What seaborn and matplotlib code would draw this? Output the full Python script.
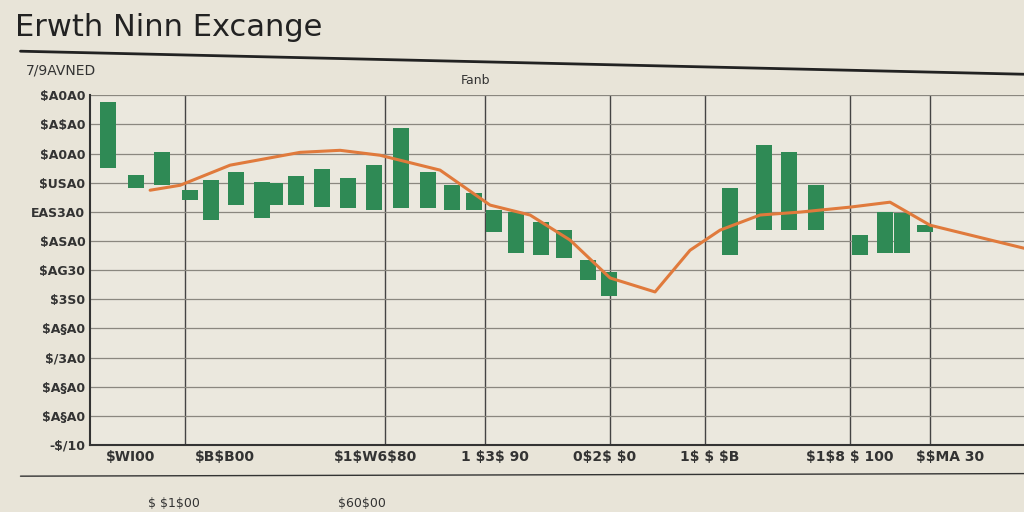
import matplotlib
matplotlib.use("Agg")
import matplotlib.pyplot as plt
import seaborn as sns
import pandas as pd

sns.set_theme(style="white")
plt.rcParams['font.family'] = ['DejaVu Sans']
plt.rcParams['text.parse_math'] = False

bar_x = [18, 46, 72, 100, 121, 146, 172, 185, 206, 232, 258, 284, 311, 338, 362, 384,
         404, 426, 451, 474, 498, 519, 640, 674, 699, 726, 770, 795, 812, 835]
bar_top = [117.6, 92.6, 100.4, 87.4, 90.8, 93.6, 90.2, 89.8, 92.2, 94.6, 91.5, 96, 108.7, 93.6, 89.1, 86.4,
           80.6, 79.9, 76.4, 73.7, 63.4, 59.3, 88.1, 102.8, 100.4, 89.1, 72, 79.9, 79.5, 75.4]
bar_bottom = [95, 88.1, 89.1, 84, 77.1, 82.3, 77.8, 82.3, 82.3, 81.6, 81.2, 80.6, 81.2, 81.2, 80.6, 80.6,
              73, 65.8, 65.1, 64.1, 56.6, 51.1, 65.1, 73.7, 73.7, 73.7, 65.1, 65.8, 65.8, 73]
line_x = [60, 90, 140, 210, 250, 290, 350, 400, 440, 480, 520, 565, 600, 630, 670, 710, 760, 800, 840, 934]
line_y = [87.4, 89.1, 96, 100.4, 101.1, 99.4, 94.3, 82.3, 78.9, 70.3, 57.3, 52.5, 66.8, 73.7, 78.9, 79.9,
          81.6, 83.3, 75.4, 67.5]
y_ticks = [0, 10, 20, 30, 40, 50, 60, 70, 80, 90, 100, 110, 120]
y_labels = ["-$/10", "$A§A0", "$A§A0", "$/3A0", "$A§A0", "$3S0", "$AG30", "$ASA0", "EAS3A0", "$USA0",
            "$A0A0", "$A$A0", "$A0A0"]
x_ticks = [40, 135, 285, 405, 515, 620, 760, 860]
x_labels = ["$WI00", "$B$B00", "$1$W6$80", "1 $3$ 90", "0$2$ $0", "1$ $ $B", "$1$8 $ 100", "$$MA 30"]

fig = plt.figure(figsize=(10.24, 5.12), dpi=100, facecolor="#e8e4d8")
ax = fig.add_axes([0.088, 0.131, 0.912, 0.683])
ax.set_facecolor("#ebe8de")
ax.set_xlim(0, 934)
ax.set_ylim(0, 120)
for v in [95, 295, 395, 520, 615, 760, 840]:
    ax.axvline(v, color="#444", lw=1.0)
for t in y_ticks[1:]:
    ax.axhline(t, color="#8a877f", lw=0.9)
ax.bar(bar_x, [t - b for t, b in zip(bar_top, bar_bottom)], bottom=bar_bottom, width=16,
       color="#2f8a55", linewidth=0, zorder=3)
df = pd.DataFrame({"x": line_x, "y": line_y})
sns.lineplot(data=df, x="x", y="y", ax=ax, color="#e07a3c", lw=2.2, zorder=4)
ax.set_yticks(y_ticks)
ax.set_yticklabels(y_labels, fontsize=9, fontweight="bold", color="#333")
ax.set_xticks(x_ticks)
ax.set_xticklabels(x_labels, fontsize=10, fontweight="bold", color="#333")
ax.set_xlabel(""); ax.set_ylabel("")
for s in ["top", "right"]:
    ax.spines[s].set_visible(False)
ax.spines["left"].set_color("#333"); ax.spines["bottom"].set_color("#333")
ax.spines["left"].set_linewidth(1.5); ax.spines["bottom"].set_linewidth(1.5)
ax.tick_params(length=0)

fig.text(0.015, 0.93, "Erwth Ninn Excange", fontsize=22, color="#222", family="Liberation Sans Narrow")
fig.text(0.025, 0.855, "7/9AVNED", fontsize=10, color="#333")
fig.text(0.45, 0.835, "Fanb", fontsize=9, color="#333")
fig.add_artist(plt.Line2D([0.02, 1.0], [0.9, 0.855], color="#222", lw=2))
fig.add_artist(plt.Line2D([0.02, 1.0], [0.07, 0.075], color="#333", lw=1))
fig.text(0.145, 0.01, "$ $1$00", fontsize=9, color="#333")
fig.text(0.33, 0.01, "$60$00", fontsize=9, color="#333")
fig.savefig("out.png", dpi=100, facecolor=fig.get_facecolor())
